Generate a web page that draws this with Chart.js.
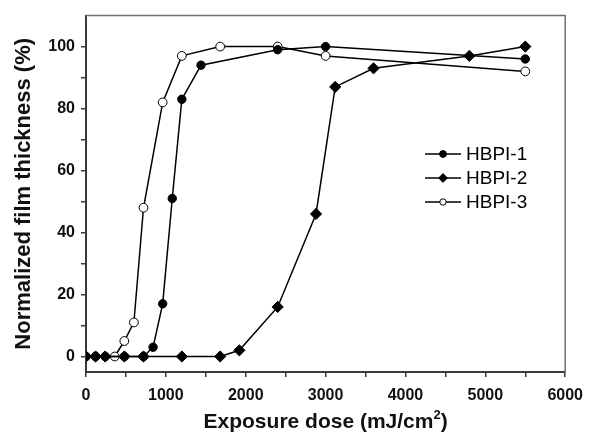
<!DOCTYPE html>
<html>
<head>
<meta charset="utf-8">
<script src="https://cdn.jsdelivr.net/npm/chart.js@4/dist/chart.umd.min.js"></script>
<style>
  html, body { margin: 0; padding: 0; background: #fff; }
  #wrap { width: 592px; height: 435px; }
</style>
</head>
<body>
<div id="wrap"><canvas id="c" width="592" height="435"></canvas></div>
<script>
// Exposure dose (mJ/cm²) and normalized remaining film thickness (%)
const dose1 = [0, 120, 240, 480, 720, 840, 960, 1080, 1200, 1440, 2400, 3000, 5500];
const thick1 = [0, 0, 0, 0, 0, 3, 17, 51, 83, 94, 99, 100, 96];

const dose2 = [0, 120, 240, 480, 720, 1200, 1680, 1920, 2400, 2880, 3120, 3600, 4800, 5500];
const thick2 = [0, 0, 0, 0, 0, 0, 0, 2, 16, 46, 87, 93, 97, 100];

const dose3 = [360, 480, 600, 720, 960, 1200, 1680, 2400, 3000, 5500];
const thick3 = [0, 5, 11, 48, 82, 97, 100, 100, 97, 92];

const seriesNames = ['HBPI-1', 'HBPI-2', 'HBPI-3'];
const xMajorTicks = [0, 1000, 2000, 3000, 4000, 5000, 6000];
const yMajorTicks = [0, 20, 40, 60, 80, 100];
const xTitle = ['Exposure dose (mJ/cm', '2', ')'];

const pairs = (xs, ys) => xs.map((x, i) => ({ x: x, y: ys[i] }));

const AXIS = '#3a3a3a';
const FONT = "'Liberation Sans', Arial, sans-serif";

// Thin frame along the top and right of the plot
const frame = {
  id: 'frame',
  beforeDatasetsDraw(chart) {
    const a = chart.chartArea, ctx = chart.ctx;
    ctx.save();
    ctx.strokeStyle = '#6e6e6e';
    ctx.lineWidth = 1.5;
    ctx.beginPath();
    ctx.moveTo(a.left, a.top);
    ctx.lineTo(a.right, a.top);
    ctx.lineTo(a.right, a.bottom);
    ctx.stroke();
    ctx.restore();
  }
};

// x-axis title with a raised exponent on the unit
const xAxisTitle = {
  id: 'xAxisTitle',
  afterDraw(chart) {
    const a = chart.chartArea, ctx = chart.ctx;
    const big = 'bold 21px ' + FONT, small = 'bold 13px ' + FONT;
    ctx.save();
    ctx.fillStyle = '#111';
    ctx.textBaseline = 'alphabetic';
    ctx.textAlign = 'left';
    ctx.font = big;
    const w0 = ctx.measureText(xTitle[0]).width;
    const w2 = ctx.measureText(xTitle[2]).width;
    ctx.font = small;
    const w1 = ctx.measureText(xTitle[1]).width;
    let x = (a.left + a.right) / 2 - (w0 + w1 + w2) / 2;
    const base = 428;
    ctx.font = big;
    ctx.fillText(xTitle[0], x, base);
    x += w0;
    ctx.font = small;
    ctx.fillText(xTitle[1], x, base - 9);
    x += w1;
    ctx.font = big;
    ctx.fillText(xTitle[2], x, base);
    ctx.restore();
  }
};

// Legend drawn inside the plot area, line + marker + label per series
const insideLegend = {
  id: 'insideLegend',
  afterDatasetsDraw(chart) {
    const ctx = chart.ctx;
    const x0 = 425, x1 = 461, tx = 466;
    const rows = [154, 178, 202];
    const sizes = [3.4, 4.4, 3.2];
    chart.data.datasets.forEach((ds, i) => {
      const y = rows[i];
      ctx.save();
      ctx.strokeStyle = '#000';
      ctx.lineWidth = 1.5;
      ctx.beginPath();
      ctx.moveTo(x0, y);
      ctx.lineTo(x1, y);
      ctx.stroke();
      ctx.fillStyle = ds.pointBackgroundColor;
      ctx.lineWidth = 1;
      Chart.helpers.drawPoint(ctx, {
        pointStyle: ds.pointStyle,
        radius: sizes[i],
        borderWidth: 1,
        rotation: 0
      }, (x0 + x1) / 2, y);
      ctx.fillStyle = '#000';
      ctx.font = '19px ' + FONT;
      ctx.textBaseline = 'middle';
      ctx.textAlign = 'left';
      ctx.fillText(ds.label, tx, y + 1);
      ctx.restore();
    });
  }
};

const common = {
  borderColor: '#000',
  borderWidth: 1.5,
  pointBorderColor: '#000',
  pointBorderWidth: 1,
  tension: 0,
  fill: false
};

new Chart(document.getElementById('c'), {
  type: 'line',
  data: {
    datasets: [
      Object.assign({}, common, {
        label: seriesNames[0],
        data: pairs(dose1, thick1),
        pointStyle: 'circle',
        pointRadius: 4.2,
        pointBackgroundColor: '#000'
      }),
      Object.assign({}, common, {
        label: seriesNames[1],
        data: pairs(dose2, thick2),
        pointStyle: 'rectRot',
        pointRadius: 5.6,
        pointBackgroundColor: '#000'
      }),
      Object.assign({}, common, {
        label: seriesNames[2],
        data: pairs(dose3, thick3),
        pointStyle: 'circle',
        pointRadius: 4.4,
        pointBackgroundColor: '#fff'
      })
    ]
  },
  options: {
    responsive: false,
    animation: false,
    events: [],
    layout: { padding: { top: 14, right: 20, left: 0, bottom: 0 } },
    plugins: {
      legend: { display: false },
      tooltip: { enabled: false }
    },
    scales: {
      x: {
        type: 'linear',
        min: 0,
        max: 6000,
        afterFit(scale) { scale.height = 63; },
        afterBuildTicks(scale) {
          const t = [];
          for (let v = 0; v <= 6000; v += 500) t.push({ value: v });
          scale.ticks = t;
        },
        ticks: {
          autoSkip: false,
          maxRotation: 0,
          color: '#111',
          padding: 9,
          font: { family: FONT, size: 16, weight: 'bold' },
          callback: v => xMajorTicks.includes(v) ? String(v) : ''
        },
        grid: { drawOnChartArea: false, drawTicks: true, tickLength: 5, color: AXIS, lineWidth: 1.5 },
        border: { display: true, color: AXIS, width: 2 },
        title: { display: false }
      },
      y: {
        type: 'linear',
        min: -5,
        max: 110,
        afterFit(scale) { scale.width = 86; },
        afterBuildTicks(scale) {
          const t = [];
          for (let v = 0; v <= 100; v += 10) t.push({ value: v });
          scale.ticks = t;
        },
        ticks: {
          autoSkip: false,
          color: '#111',
          padding: 6,
          font: { family: FONT, size: 16, weight: 'bold' },
          callback: v => yMajorTicks.includes(v) ? String(v) : ''
        },
        grid: { drawOnChartArea: false, drawTicks: true, tickLength: 5, color: AXIS, lineWidth: 1.5 },
        border: { display: true, color: AXIS, width: 2 },
        title: {
          display: true,
          text: 'Normalized film thickness (%)',
          color: '#111',
          font: { family: FONT, size: 22, weight: 'bold' },
          padding: { top: 11, bottom: 0 }
        }
      }
    }
  },
  plugins: [frame, xAxisTitle, insideLegend]
});
</script>
</body>
</html>
